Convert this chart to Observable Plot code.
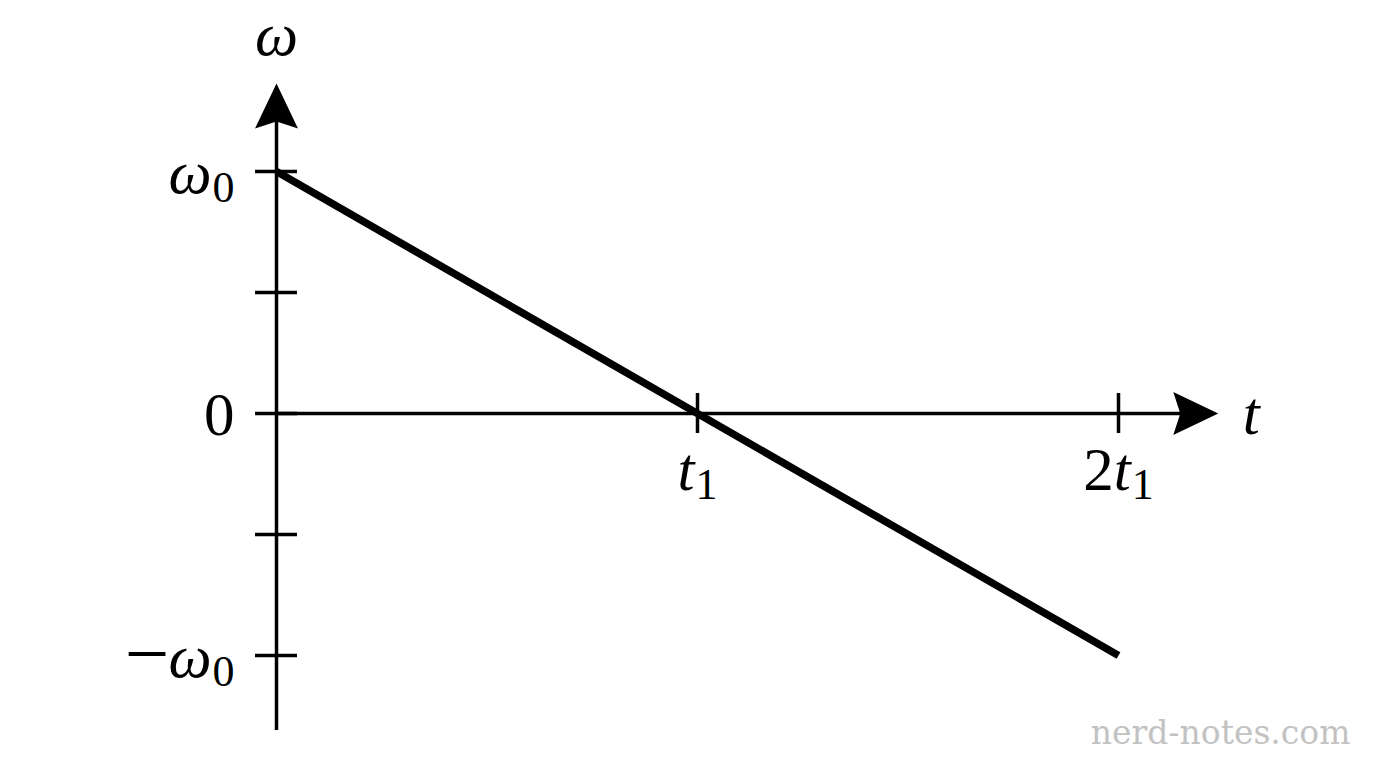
<!DOCTYPE html>
<html>
<head>
<meta charset="utf-8">
<script src="https://cdn.jsdelivr.net/npm/d3@7"></script>
<script src="https://cdn.jsdelivr.net/npm/@observablehq/plot@0.6"></script>
<style>
  html, body { margin: 0; padding: 0; background: #fff; }
  #chart { width: 1376px; height: 768px; }
  .math, .math tspan { font-family: "Liberation Serif", serif; }
</style>
</head>
<body>
<div id="chart"></div>
<script>
// ---- data ----
const lineT = [0, 2];            // time in units of t1
const lineOmega = [1, -1];       // angular velocity in units of ω0
const xTickValues = [1, 2];
const xTickLabels = ["t_1", "2t_1"];
const yTickValues = [1, 0.5, 0, -0.5, -1];
const yLabelValues = [1, 0, -1];
const yTickLabels = ["ω_0", "0", "−ω_0"];
const xAxisExtent = [0, 2.237];   // t axis: origin to arrow tip
const yAxisExtent = [-1.31, 1.364]; // ω axis: bottom to arrow tip
const axisTitles = ["t", "ω"];
const watermark = ["nerd-notes.com"];

const lineData = lineT.map((t, i) => ({t, w: lineOmega[i]}));
const xLabelData = xTickValues.map((v, i) => ({v, label: xTickLabels[i]}));
const yLabelData = yLabelValues.map((v, i) => ({v, label: yTickLabels[i]}));
const mathStrings = new Set([...xTickLabels, ...yTickLabels, ...axisTitles]);

// arrowhead symbol, tip at origin, pointing up
const arrowHead = {
  draw(ctx) {
    ctx.moveTo(0, 0);
    ctx.lineTo(21.5, 45);
    ctx.lineTo(0, 38);
    ctx.lineTo(-21.5, 45);
    ctx.closePath();
  }
};

const font = "Liberation Serif";
const fs = 61;

const plot = Plot.plot({
  width: 1376,
  height: 768,
  margin: 0,
  x: {domain: [-276 / 421, 1100 / 421], axis: null},
  y: {domain: [-355 / 242, 413 / 242], axis: null},
  style: {background: "white"},
  marks: [
    // axes
    Plot.ruleY([0], {x1: xAxisExtent[0], x2: xAxisExtent[1], stroke: "black", strokeWidth: 3.5, insetRight: 30}),
    Plot.ruleX([0], {y1: yAxisExtent[1], y2: yAxisExtent[0], stroke: "black", strokeWidth: 3.5, insetTop: 30}),
    // ticks
    Plot.ruleY(yTickValues, {x1: 0, x2: 0, insetLeft: -21, insetRight: -21, stroke: "black", strokeWidth: 3.5}),
    Plot.ruleX(xTickValues, {y1: 0, y2: 0, insetTop: -20, insetBottom: -20, stroke: "black", strokeWidth: 3.5}),
    // arrowheads
    Plot.dot([0], {x: 0, y: () => yAxisExtent[1], symbol: arrowHead, fill: "black", stroke: "none"}),
    Plot.dot([0], {x: () => xAxisExtent[1], y: 0, symbol: arrowHead, rotate: 90, fill: "black", stroke: "none"}),
    // data line
    Plot.line(lineData, {x: "t", y: "w", stroke: "black", strokeWidth: 7.5, strokeLinecap: "butt"}),
    // tick labels
    Plot.text(yLabelData, {x: 0, y: "v", text: "label", textAnchor: "end", lineAnchor: "bottom", dx: -42, dy: 21, fontSize: fs, fontFamily: font, fill: "black"}),
    Plot.text(xLabelData, {x: "v", y: 0, text: "label", textAnchor: "middle", lineAnchor: "bottom", dy: 76, fontSize: fs, fontFamily: font, fill: "black"}),
    // axis titles
    Plot.text([axisTitles[0]], {x: () => xAxisExtent[1], y: 0, text: d => d, textAnchor: "middle", lineAnchor: "bottom", dx: 33, dy: 20, fontSize: fs, fontFamily: font, fill: "black"}),
    Plot.text([axisTitles[1]], {x: 0, y: () => yAxisExtent[1], text: d => d, textAnchor: "middle", lineAnchor: "bottom", dy: -28, fontSize: fs, fontFamily: font, fill: "black"}),
    // watermark
    Plot.text(watermark, {frameAnchor: "bottom-right", text: d => d, textAnchor: "end", lineAnchor: "bottom", dx: -26, dy: -25, fontSize: 33, fontFamily: "DejaVu Serif", fill: "#c2c2c2"})
  ]
});

// typeset: letters italic, digits/minus upright, "_x" as subscript
const NS = "http://www.w3.org/2000/svg";
plot.querySelectorAll("text").forEach(el => {
  const s = el.textContent;
  if (!mathStrings.has(s)) return;
  el.textContent = "";
  el.setAttribute("class", "math");
  el.setAttribute("font-family", font);
  const [base, sub] = s.split("_");
  let prevMinus = false;
  for (const ch of base) {
    const ts = document.createElementNS(NS, "tspan");
    ts.textContent = ch;
    ts.setAttribute("font-family", font);
    if (/[a-zA-Zα-ω]/.test(ch)) ts.setAttribute("font-style", "italic");
    if (ch === "−") {
      ts.setAttribute("font-size", Math.round(fs * 1.3));
      ts.setAttribute("dy", 3);
    }
    if (prevMinus) {
      ts.setAttribute("dx", -1);
      ts.setAttribute("dy", -3);
    }
    prevMinus = ch === "−";
    el.appendChild(ts);
  }
  if (sub) {
    const ts = document.createElementNS(NS, "tspan");
    ts.textContent = sub;
    ts.setAttribute("font-family", font);
    ts.setAttribute("font-size", Math.round(fs * 0.72));
    ts.setAttribute("dy", 9);
    ts.setAttribute("dx", 1);
    el.appendChild(ts);
  }
});

document.getElementById("chart").appendChild(plot);
</script>
</body>
</html>
